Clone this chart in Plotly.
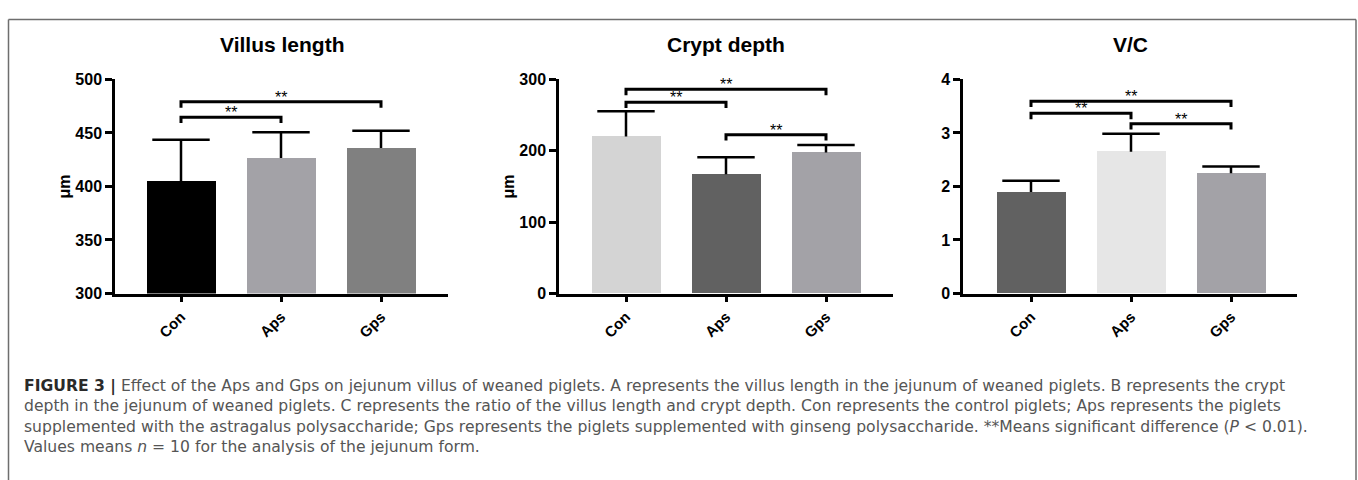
import plotly.graph_objects as go

W, H = 1358, 480


def px_x(x):
    return x / W


def px_y(y):
    return 1 - y / H


categories = ["Con", "Aps", "Gps"]

villus_mean = [405, 426.6, 436]
villus_err = [38.5, 24, 16]
crypt_mean = [220, 167, 197.6]
crypt_err = [35.3, 23.8, 10.4]
vc_mean = [1.895, 2.648, 2.245]
vc_err = [0.21, 0.337, 0.127]

villus_colors = ["#000000", "#a3a2a7", "#808080"]
crypt_colors = ["#d4d4d4", "#616161", "#a3a2a7"]
vc_colors = ["#616161", "#e6e6e6", "#a3a2a7"]

# significance brackets: (from index, to index, bracket level, label)
villus_sig = [(0, 1, 464.6, "**"), (0, 2, 479, "**")]
crypt_sig = [(0, 1, 268, "**"), (0, 2, 286, "**"), (1, 2, 222.5, "**")]
vc_sig = [(0, 1, 3.365, "**"), (0, 2, 3.59, "**"), (1, 2, 3.17, "**")]

titles = ["Villus length", "Crypt depth", "V/C"]
y_titles = ["μm", "μm", ""]
y_ranges = [(300, 500), (0, 300), (0, 4)]
y_dticks = [50, 100, 1]

caption_lines = [
    "<b><span style='color:#2a2a2a'>FIGURE 3 |</span></b> Effect of the Aps and Gps on jejunum villus of weaned piglets. A represents the villus length in the jejunum of weaned piglets. B represents the crypt",
    "depth in the jejunum of weaned piglets. C represents the ratio of the villus length and crypt depth. Con represents the control piglets; Aps represents the piglets",
    "supplemented with the astragalus polysaccharide; Gps represents the piglets supplemented with ginseng polysaccharide. **Means significant difference (<i>P</i> &lt; 0.01).",
    "Values means <i>n</i> = 10 for the analysis of the jejunum form.",
]

panels = [
    (villus_mean, villus_err, villus_colors, villus_sig),
    (crypt_mean, crypt_err, crypt_colors, crypt_sig),
    (vc_mean, vc_err, vc_colors, vc_sig),
]

x_domains_px = [(115, 448), (559, 893), (963, 1297)]
x_ranges = [(-0.66, 2.67), (-0.67, 2.67), (-0.68, 2.66)]
y_dom_px = (74, 296)

FONT = "Liberation Sans, Arial, sans-serif"
CAP_FONT = "DejaVu Sans, Liberation Sans, sans-serif"

fig = go.Figure()
annotations = []

for i, (means, errs, colors, sig) in enumerate(panels):
    ax = "" if i == 0 else str(i + 1)
    xref, yref = "x" + ax, "y" + ax
    xs = list(range(len(categories)))
    fig.add_trace(go.Bar(
        x=xs, y=means, width=0.69,
        marker=dict(color=colors, line=dict(width=0)),
        xaxis=xref, yaxis=yref, showlegend=False, hoverinfo="skip",
    ))
    # one-sided error bars: cap marker at top, stem drawn downwards to the mean
    tops = [m + e for m, e in zip(means, errs)]
    fig.add_trace(go.Scatter(
        x=xs, y=tops, mode="markers",
        marker=dict(symbol="line-ew", size=41, color="#000000",
                    line=dict(color="#000000", width=2.5)),
        error_y=dict(type="data", array=[0] * len(errs), arrayminus=errs,
                     symmetric=False, color="#000000", thickness=2.5, width=0),
        xaxis=xref, yaxis=yref, showlegend=False, hoverinfo="skip",
        cliponaxis=False,
    ))
    lo, hi = y_ranges[i]
    drop = 0.027 * (hi - lo)
    for a, b, lvl, lab in sig:
        fig.add_trace(go.Scatter(
            x=[a, a, b, b], y=[lvl - drop, lvl, lvl, lvl - drop],
            mode="lines", line=dict(color="#000000", width=3),
            xaxis=xref, yaxis=yref, showlegend=False, hoverinfo="skip",
            cliponaxis=False,
        ))
        annotations.append(dict(
            x=(a + b) / 2, y=lvl, xref=xref, yref=yref, text=lab,
            showarrow=False, yanchor="bottom", yshift=-6,
            font=dict(family=FONT, size=16, color="#000000"),
        ))

    d0, d1 = x_domains_px[i]
    xa = dict(
        domain=[px_x(d0), px_x(d1)], range=list(x_ranges[i]),
        tickvals=list(range(len(categories))), ticktext=categories,
        tickangle=-45, ticks="outside", ticklen=6, tickwidth=2.5,
        tickcolor="#000000", showline=True, linecolor="#000000", linewidth=2.5,
        showgrid=False, zeroline=False, anchor=yref,
        tickfont=dict(family=FONT, size=15, color="#000000", weight="bold"),
        fixedrange=True,
    )
    ya = dict(
        domain=[px_y(y_dom_px[1]), px_y(y_dom_px[0])], range=[lo, hi],
        dtick=y_dticks[i], tick0=lo, ticks="outside", ticklen=7, tickwidth=2.5,
        tickcolor="#000000", showline=True, linecolor="#000000", linewidth=2.5,
        showgrid=False, zeroline=False, anchor=xref,
        tickfont=dict(family=FONT, size=16, color="#000000", weight="bold"),
        fixedrange=True,
    )
    fig.layout["xaxis" + ax] = xa
    fig.layout["yaxis" + ax] = ya

    annotations.append(dict(
        x=px_x((d0 + d1) / 2), y=px_y(38), xref="paper", yref="paper",
        text="<b>" + titles[i] + "</b>", showarrow=False,
        xanchor="center", yanchor="middle",
        font=dict(family=FONT, size=21, color="#000000"),
    ))
    if y_titles[i]:
        annotations.append(dict(
            x=px_x(d0 - 51), y=px_y((y_dom_px[0] + y_dom_px[1]) / 2),
            xref="paper", yref="paper", text="<b>" + y_titles[i] + "</b>",
            showarrow=False, textangle=-90, xanchor="center", yanchor="middle",
            font=dict(family=FONT, size=16, color="#000000"),
        ))

annotations.append(dict(
    x=px_x(22), y=px_y(380), xref="paper", yref="paper",
    text="<br>".join(caption_lines),
    showarrow=False, xanchor="left", yanchor="top", align="left",
    font=dict(family=CAP_FONT, size=15.6, color="#555555"),
))

frame = dict(color="#6e6e6e", width=1.5)
fig.update_layout(
    width=W, height=H, margin=dict(l=0, r=0, t=0, b=0),
    paper_bgcolor="#ffffff", plot_bgcolor="#ffffff",
    annotations=annotations, bargap=0,
    shapes=[
        dict(type="line", xref="paper", yref="paper", x0=px_x(8.5), x1=px_x(1356),
             y0=px_y(12), y1=px_y(12), line=frame),
        dict(type="line", xref="paper", yref="paper", x0=px_x(8.5), x1=px_x(8.5),
             y0=px_y(12), y1=-0.1, line=frame),
        dict(type="line", xref="paper", yref="paper", x0=px_x(1356), x1=px_x(1356),
             y0=px_y(12), y1=-0.1, line=frame),
    ],
)

fig.write_html(
    "out.html",
    config={"displayModeBar": False},
    post_script="document.body.style.margin='0';document.body.style.overflow='hidden';",
)
